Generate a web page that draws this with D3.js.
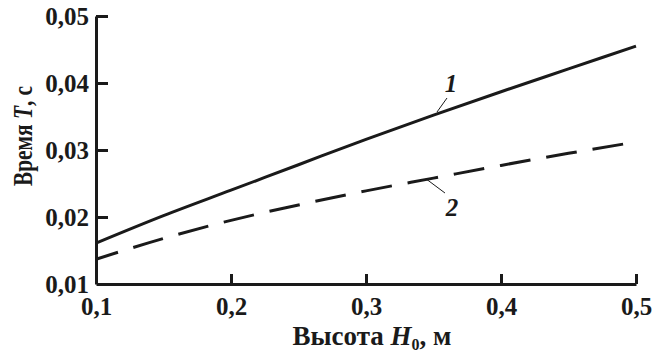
<!DOCTYPE html>
<html>
<head>
<meta charset="utf-8">
<script src="https://cdn.jsdelivr.net/npm/d3@7"></script>
<style>
  html, body { margin: 0; padding: 0; background: #fff; }
  text { font-family: "Liberation Serif", "Times New Roman", Times, serif; font-weight: bold; fill: #1a1a1a; }
</style>
</head>
<body>
<div id="chart"></div>
<script>
// heights H0, m
const heights = [0.1, 0.15, 0.2, 0.25, 0.3, 0.35, 0.4, 0.45, 0.5];
// curve 1 (solid) and curve 2 (dashed), time T, s
const time1 = [0.0161, 0.0202, 0.0240, 0.0278, 0.0316, 0.0352, 0.0387, 0.0421, 0.0455];
const time2 = [0.0137, 0.0168, 0.0195, 0.0218, 0.0239, 0.0258, 0.0277, 0.0295, 0.0312];

const xTicks = [0.1, 0.2, 0.3, 0.4, 0.5];
const yTicks = [0.01, 0.02, 0.03, 0.04, 0.05];

// curve labels: text, label position, leader start, leader end (data units)
const curveLabels = [
  { text: '1', at: [0.363, 0.0387], from: [0.3526, 0.03567], to: [0.3600, 0.03776] },
  { text: '2', at: [0.3637, 0.0201], from: [0.3444, 0.0257], to: [0.3585, 0.02358] }
];

const W = 657, H = 353;
const margin = { top: 16, right: 21, bottom: 69, left: 96 };
const width = W - margin.left - margin.right;
const height = H - margin.top - margin.bottom;

const fmt = d => d3.format('.2~f')(d).replace('.', ',');
const fmtX = d => d3.format('.1f')(d).replace('.', ',');

const svg = d3.select('#chart')
  .append('svg')
  .attr('width', W)
  .attr('height', H);

const g = svg.append('g')
  .attr('transform', 'translate(' + margin.left + ',' + margin.top + ')');

const x = d3.scaleLinear().domain([0.1, 0.5]).range([0, width]);
const y = d3.scaleLinear().domain([0.01, 0.05]).range([height, 0]);

// axes
const xAxis = g.append('g')
  .attr('transform', 'translate(0,' + height + ')')
  .call(d3.axisBottom(x).tickValues(xTicks).tickFormat(fmtX).tickSizeInner(-10).tickSizeOuter(0).tickPadding(13));

const yAxis = g.append('g')
  .call(d3.axisLeft(y).tickValues(yTicks).tickFormat(fmt).tickSizeInner(-12).tickSizeOuter(0).tickPadding(7));

[xAxis, yAxis].forEach(a => {
  a.select('.domain').attr('stroke', '#1a1a1a').attr('stroke-width', 3);
  a.selectAll('.tick line').attr('stroke', '#1a1a1a').attr('stroke-width', 3);
  a.selectAll('.tick text')
    .attr('fill', '#1a1a1a')
    .style('font-family', '"Liberation Serif", "Times New Roman", serif')
    .style('font-size', '25px');
});
// corner tick at 0.1 coincides with the y axis
xAxis.selectAll('.tick').filter(d => d === 0.1).select('line').remove();
yAxis.selectAll('.tick').filter(d => d === 0.01).select('line').remove();

// curves
const line = d3.line()
  .x(d => x(d[0]))
  .y(d => y(d[1]))
  .curve(d3.curveMonotoneX);

g.append('path')
  .datum(heights.map((h, i) => [h, time1[i]]))
  .attr('fill', 'none')
  .attr('stroke', '#1a1a1a')
  .attr('stroke-width', 3)
  .attr('d', line);

g.append('path')
  .datum(heights.map((h, i) => [h, time2[i]]))
  .attr('fill', 'none')
  .attr('stroke', '#1a1a1a')
  .attr('stroke-width', 3)
  .attr('stroke-dasharray', '31,16')
  .attr('stroke-dashoffset', 8)
  .attr('d', line);

// curve labels with leaders
curveLabels.forEach(l => {
  g.append('line')
    .attr('x1', x(l.from[0])).attr('y1', y(l.from[1]))
    .attr('x2', x(l.to[0])).attr('y2', y(l.to[1]))
    .attr('stroke', '#1a1a1a')
    .attr('stroke-width', 1);
  g.append('text')
    .attr('x', x(l.at[0]))
    .attr('y', y(l.at[1]))
    .attr('text-anchor', 'middle')
    .style('font-style', 'italic')
    .style('font-size', '25px')
    .text(l.text);
});

// axis titles
const xTitle = svg.append('text')
  .attr('x', 372)
  .attr('y', 345)
  .attr('text-anchor', 'middle')
  .attr('textLength', 159)
  .attr('lengthAdjust', 'spacingAndGlyphs')
  .style('font-size', '27px');
xTitle.append('tspan').text('Высота ');
xTitle.append('tspan').style('font-style', 'italic').text('H');
xTitle.append('tspan').attr('dy', 5).style('font-size', '16px').text('0');
xTitle.append('tspan').attr('dy', -5).text(', м');

const yTitle = svg.append('text')
  .attr('transform', 'translate(32,136) rotate(-90)')
  .attr('text-anchor', 'middle')
  .attr('textLength', 100)
  .attr('lengthAdjust', 'spacingAndGlyphs')
  .style('font-size', '27px');
yTitle.append('tspan').text('Время ');
yTitle.append('tspan').style('font-style', 'italic').text('T');
yTitle.append('tspan').text(', с');
</script>
</body>
</html>
